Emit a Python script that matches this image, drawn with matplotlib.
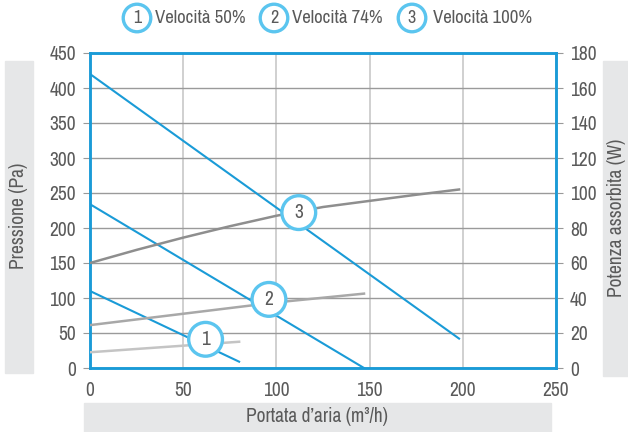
import numpy as np
import matplotlib
matplotlib.use("Agg")
import matplotlib.pyplot as plt
from matplotlib.patches import Rectangle
from matplotlib import font_manager as fm

# narrow font if one is installed, else Roboto
names = sorted(set(f.name for f in fm.fontManager.ttflist))
narrow = [n for n in names if "Condensed" in n or "Narrow" in n]
font = narrow[0] if narrow else "Roboto"
plt.rcParams['font.family'] = [font, 'DejaVu Sans']
plt.rcParams['font.weight'] = 'light'

# data
labels = ["Velocità 50%", "Velocità 74%", "Velocità 100%"]

# pressure curves (Pa), left axis
p1_x = [0, 80]
p1_y = [110, 9]
p2_x = [0, 147]
p2_y = [234, 0]
p3_x = [0, 198]
p3_y = [420, 42]

# absorbed power (W), right axis
w1_x = [0, 80]
w1_y = [9, 15]
w2_x = [0, 50, 100, 147]
w2_y = [24.5, 31, 37.5, 42.5]
w3_x = [0, 25, 50, 75, 100, 125, 150, 175, 198]
w3_y = [60, 67.5, 74.5, 81, 87, 92, 95.5, 99, 102]

# label positions (x, Pa)
tag_x = [62, 96, 112]
tag_y = [41, 98, 222]

blue = "#1a9bd7"
ring = "#5bc5ef"
txt = "#5a5a5a"
fs = 14 if narrow else 12

fig = plt.figure(figsize=(6.28, 4.32), dpi=100)
ax = fig.add_axes([90/628, 1 - 368/432, 466/628, 315/432])
ax2 = ax.twinx()

ax.plot(p1_x, p1_y, color=blue, lw=1.5, zorder=3)
ax.plot(p2_x, p2_y, color=blue, lw=1.5, zorder=3)
ax.plot(p3_x, p3_y, color=blue, lw=1.5, zorder=3)
ax2.plot(w1_x, w1_y, color="#c4c4c4", lw=1.8, zorder=3)
ax2.plot(w2_x, w2_y, color="#a8a8a8", lw=1.8, zorder=3)
ax2.plot(w3_x, w3_y, color="#8e8e8e", lw=1.8, zorder=3)

ax.set_xlim(0, 250)
ax.set_ylim(0, 450)
ax2.set_ylim(0, 180)
ax.set_xticks(np.arange(0, 251, 50))
ax.set_yticks(np.arange(0, 451, 50))
ax2.set_yticks(np.arange(0, 181, 20))

ax.grid(axis="x", color="#c8c8c8", lw=1.2)
ax.grid(axis="y", color="#9a9a9a", lw=1.0)
ax.set_axisbelow(True)

for a in (ax, ax2):
    for s in a.spines.values():
        s.set_color(blue)
        s.set_linewidth(1.8)
    a.tick_params(colors="#999999", labelcolor=txt, labelsize=fs, length=5, width=0.8)
ax.tick_params(axis="x", length=0, pad=9)
ax.tick_params(axis="y", pad=5)
ax2.tick_params(axis="y", pad=5)

# numbered circles on the curves, above the power lines
ax2.set_zorder(ax.get_zorder() + 1)
ax2.patch.set_visible(False)
for i in range(3):
    ax2.text(tag_x[i], tag_y[i] * 180 / 450, str(i + 1), ha="center", va="center", fontsize=fs, color=txt,
             zorder=10, bbox=dict(boxstyle="circle,pad=0.38", fc="white", ec=ring, lw=2.4))

# grey label boxes
fig.patches.append(Rectangle((5/628, 1 - 373/432), 28/628, 312/432, transform=fig.transFigure,
                             color="#e6e7e8", zorder=0))
fig.patches.append(Rectangle((603/628, 1 - 376/432), 25/628, 315/432, transform=fig.transFigure,
                             color="#e6e7e8", zorder=0))
fig.patches.append(Rectangle((84/628, 0), 467/628, 29/432, transform=fig.transFigure,
                             color="#e6e7e8", zorder=0))
fig.text(19/628, 1 - 216/432, "Pressione (Pa)", rotation=90, ha="center", va="center", fontsize=fs,
         color=txt)
fig.text(616/628, 1 - 218/432, "Potenza assorbita (W)", rotation=90, ha="center", va="center", fontsize=fs,
         color=txt)
fig.text(317/628, 1 - 417/432, "Portata d’aria (m³/h)", ha="center", va="center", fontsize=fs, color=txt)

# legend at top
circ_x = [137, 274, 412]
text_x = [155, 292, 433]
for i in range(3):
    fig.text(circ_x[i]/628, 1 - 18/432, str(i + 1), ha="center", va="center", fontsize=fs - 1, color=txt,
             bbox=dict(boxstyle="circle,pad=0.32", fc="white", ec=ring, lw=2.4))
    fig.text(text_x[i]/628, 1 - 18/432, labels[i], ha="left", va="center", fontsize=fs - 0.5, color=txt)

fig.savefig("out.png", dpi=100)
